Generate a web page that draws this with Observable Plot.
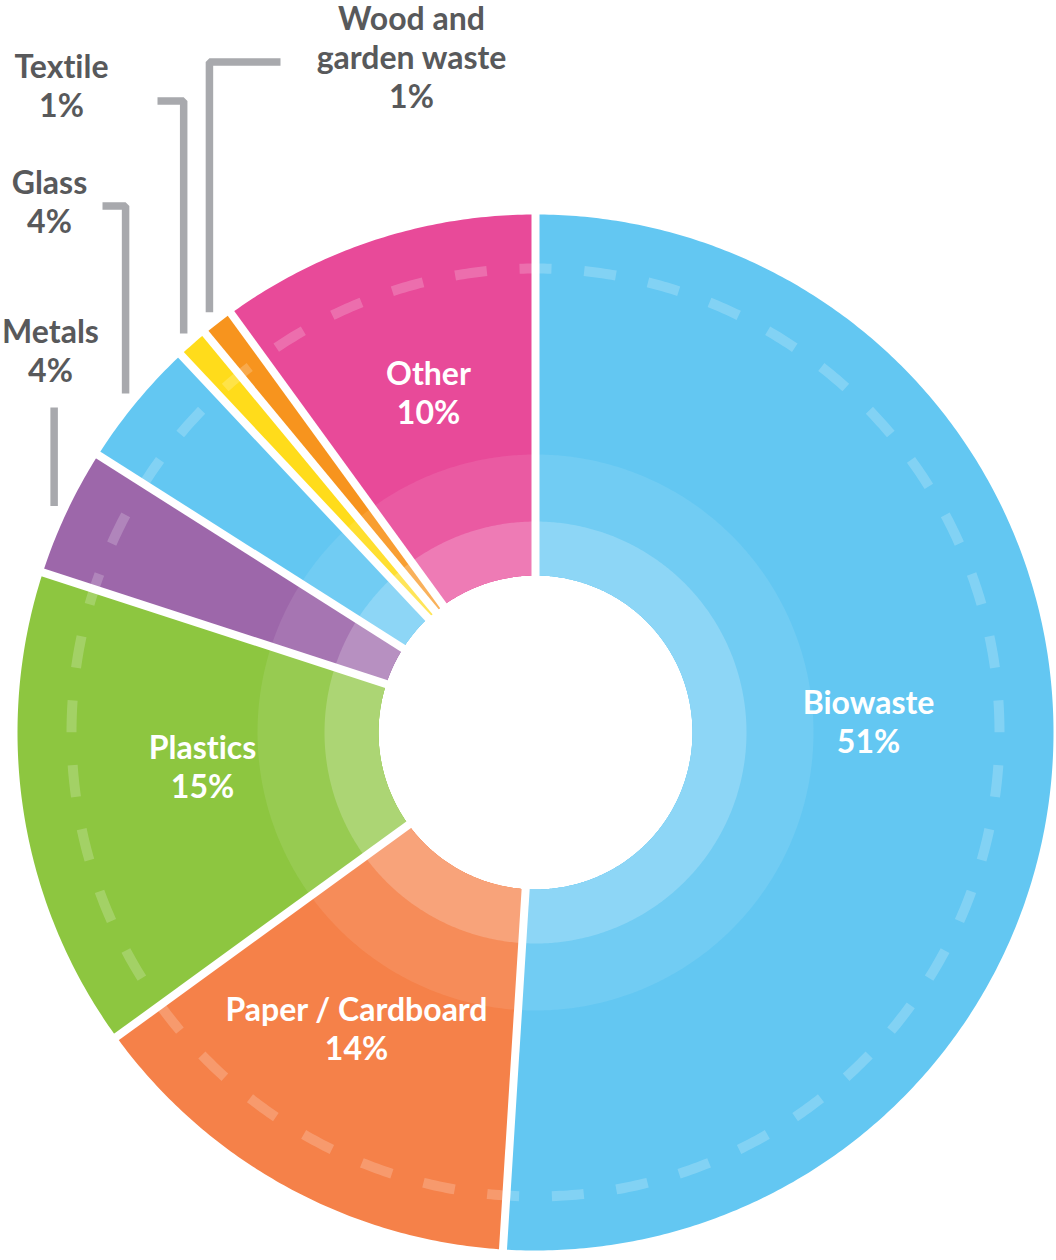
<!DOCTYPE html>
<html><head><meta charset="utf-8">
<script src="https://cdn.jsdelivr.net/npm/d3@7"></script>
<script src="https://cdn.jsdelivr.net/npm/@observablehq/plot@0.6"></script>
<style>html,body{margin:0;padding:0;background:#fff} svg{display:block} svg text{font-variant-ligatures:none;font-feature-settings:"liga" 0}</style>
</head><body><div id="chart"></div>
<script>
// ---- data ----
const categories = ["Biowaste","Paper / Cardboard","Plastics","Metals","Glass","Textile","Wood and garden waste","Other"];
const shares = [51, 14, 15, 4, 4, 1, 1, 10];
const labelNames = ["Biowaste","Paper / Cardboard","Plastics","Metals","Glass","Textile","Wood and\ngarden waste","Other"];
const colors = ["#63c7f2","#f58149","#8dc640","#9d67aa","#63c7f2","#ffdc1b","#f7941e","#e84a99"];

// ---- layout (pixels) ----
const W = 1056, H = 1260, CX = 535, CY = 732;
const R_IN = 157, R_OUT = 518, R_BAND1 = 211, R_BAND2 = 278, R_DASH = 464, R_LEAD = 532;
const FS = 32, LH = 39;
const labelX = [868, 356, 202, 50, 49, 61, 411, 428];
const labelBaseline = [709, 1016, 754, 338, 189, 73, 25, 380];
const labelInside = [true, true, true, false, false, false, false, true];
const calloutElbowY = [null, null, null, 407, 205.5, 100.5, 61.5, null];
const calloutEndX = [null, null, null, null, 102, 157, 280, null];

// ---- geometry from data ----
const total = d3.sum(shares);
const starts = [];
{ let c = 0; for (const v of shares) { starts.push(c); c += v; } }
const ang = t => t / total * 2 * Math.PI;
const pt = (r, a) => [r * Math.sin(a), -r * Math.cos(a)];

function sector(r0, r1, a0, a1) {
  const n = Math.max(2, Math.ceil((a1 - a0) / (Math.PI / 360)));
  const pts = [];
  for (let i = 0; i <= n; i++) pts.push(pt(r1, a0 + (a1 - a0) * i / n));
  for (let i = n; i >= 0; i--) pts.push(pt(r0, a0 + (a1 - a0) * i / n));
  return pts;
}

const layers = [
  {r1: R_OUT, t: 0},
  {r1: R_BAND2, t: 0.09},
  {r1: R_BAND1, t: 0.27}
];
const polys = [];
layers.forEach((L, li) => {
  categories.forEach((c, i) => {
    const a0 = ang(starts[i]), a1 = ang(starts[i] + shares[i]);
    const col = d3.interpolateRgb(colors[i], "#ffffff")(L.t);
    for (const [x, y] of sector(R_IN, L.r1, a0, a1)) polys.push({key: li + "-" + i, x, y, color: col});
  });
});

const gaps = categories.map((c, i) => {
  const a = ang(starts[i]);
  const [x1, y1] = pt(R_IN - 10, a), [x2, y2] = pt(R_OUT + 10, a);
  return {x1, y1, x2, y2};
});

const dash = d3.range(0, 721).map(i => {
  const [x, y] = pt(R_DASH, i / 720 * 2 * Math.PI);
  return {x, y};
});
const circ = 2 * Math.PI * R_DASH;
const period = circ / Math.round(circ / 65);

const leaders = [];
categories.forEach((c, i) => {
  if (calloutElbowY[i] == null) return;
  const a = ang(starts[i] + shares[i] / 2);
  const [x0, y0] = pt(R_LEAD, a);
  const ey = calloutElbowY[i] - CY;
  leaders.push({k: i, x: x0, y: y0});
  leaders.push({k: i, x: x0, y: ey});
  if (calloutEndX[i] != null) leaders.push({k: i, x: calloutEndX[i] - CX, y: ey});
});

const textData = categories.map((c, i) => ({
  x: labelX[i] - CX,
  y: labelBaseline[i] - 0.71 * FS - CY,
  text: labelNames[i] + "\n" + shares[i] + "%",
  fill: labelInside[i] ? "#ffffff" : "#58595b"
}));

const chart = Plot.plot({
  width: W, height: H, margin: 0,
  x: {domain: [-CX, W - CX], range: [0, W], axis: null},
  y: {domain: [-CY, H - CY], range: [0, H], axis: null},
  color: {type: "identity"},
  style: {background: "#fff"},
  marks: [
    Plot.line(polys, {x: "x", y: "y", z: "key", fill: "color", stroke: "none", curve: "linear-closed"}),
    Plot.line(dash, {x: "x", y: "y", curve: "linear-closed", stroke: "#ffffff", strokeOpacity: 0.2, strokeWidth: 10,
      strokeLinecap: "butt", strokeDasharray: `32,${(period - 32).toFixed(3)}`, strokeDashoffset: 16}),
    Plot.link(gaps, {x1: "x1", y1: "y1", x2: "x2", y2: "y2", stroke: "#ffffff", strokeWidth: 8, strokeLinecap: "butt"}),
    Plot.line(leaders, {x: "x", y: "y", z: "k", stroke: "#a8a9ad", strokeWidth: 7.5, strokeLinecap: "butt", strokeLinejoin: "miter", curve: "linear"}),
    Plot.text(textData, {x: "x", y: "y", text: "text", fill: "fill", fontSize: FS, fontWeight: 700,
      fontFamily: "Lato, 'Noto Sans', sans-serif", lineHeight: LH / FS, lineAnchor: "top", textAnchor: "middle"})
  ]
});
document.getElementById("chart").appendChild(chart);
</script>
</body></html>
